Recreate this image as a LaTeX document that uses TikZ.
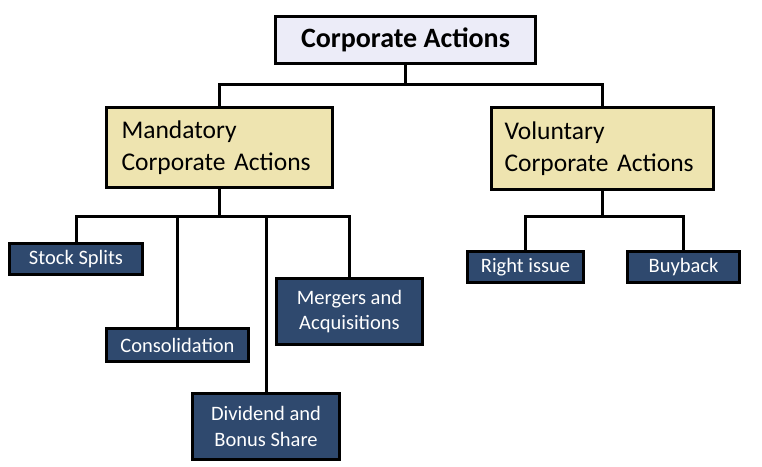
\documentclass[tikz,border=0pt]{standalone}
\usepackage{fontspec}
\setmainfont{Carlito}
\definecolor{lav}{RGB}{236,236,248}
\definecolor{beige}{RGB}{238,228,176}
\definecolor{navy}{RGB}{47,73,110}
\begin{document}
\begin{tikzpicture}[x=1pt,y=-1pt,
  base/.style={draw=black,line width=3pt,inner sep=0pt,anchor=north west},
  topbox/.style={base,fill=lav,font=\fontsize{28}{32}\selectfont\bfseries},
  midbox/.style={base,fill=beige,font=\fontsize{25.5}{32}\selectfont,align=left},
  leaf/.style={base,fill=navy,text=white,font=\fontsize{20.5}{25.5}\selectfont,align=center},
  conn/.style={line width=3pt,line join=miter}]
\useasboundingbox (0,0) rectangle (762,466);
\node[topbox,minimum width=260pt,minimum height=47pt] (top) at (274,15) {Corporate Actions};
\node[midbox,minimum width=226pt,minimum height=80pt,text width=196pt] (mand) at (105,106) {Mandatory\\Corporate Actions};
\node[midbox,minimum width=222pt,minimum height=82pt,text width=196pt] (vol) at (490,106) {Voluntary\\Corporate Actions};
\node[leaf,minimum width=133pt,minimum height=31pt] (ss) at (8,242) {Stock Splits};
\node[leaf,minimum width=142pt,minimum height=33pt] (cons) at (105,327) {Consolidation};
\node[leaf,minimum width=147pt,minimum height=66pt] (div) at (191,392) {Dividend and\\Bonus Share};
\node[leaf,minimum width=146pt,minimum height=66pt] (ma) at (275,277) {Mergers and\\Acquisitions};
\node[leaf,minimum width=116pt,minimum height=31pt] (ri) at (466,250) {Right issue};
\node[leaf,minimum width=112pt,minimum height=31pt] (bb) at (626,250) {Buyback};
\coordinate (j1) at ([yshift=-19pt]top.south);
\coordinate (j2) at ([yshift=-27pt]mand.south);
\coordinate (j3) at ([yshift=-25pt]vol.south);
\draw[conn] (top.south) -- (j1);
\draw[conn] (mand.north) |- (j1) -| (vol.north);
\draw[conn] (mand.south) -- (j2);
\draw[conn] (ss.north) |- (j2) -| (ma.north);
\draw[conn] (cons.north) -- (cons.north |- j2);
\draw[conn] (div.north) -- (div.north |- j2);
\draw[conn] (vol.south) -- (j3);
\draw[conn] (ri.north) |- (j3) -| (bb.north);
\end{tikzpicture}
\end{document}
